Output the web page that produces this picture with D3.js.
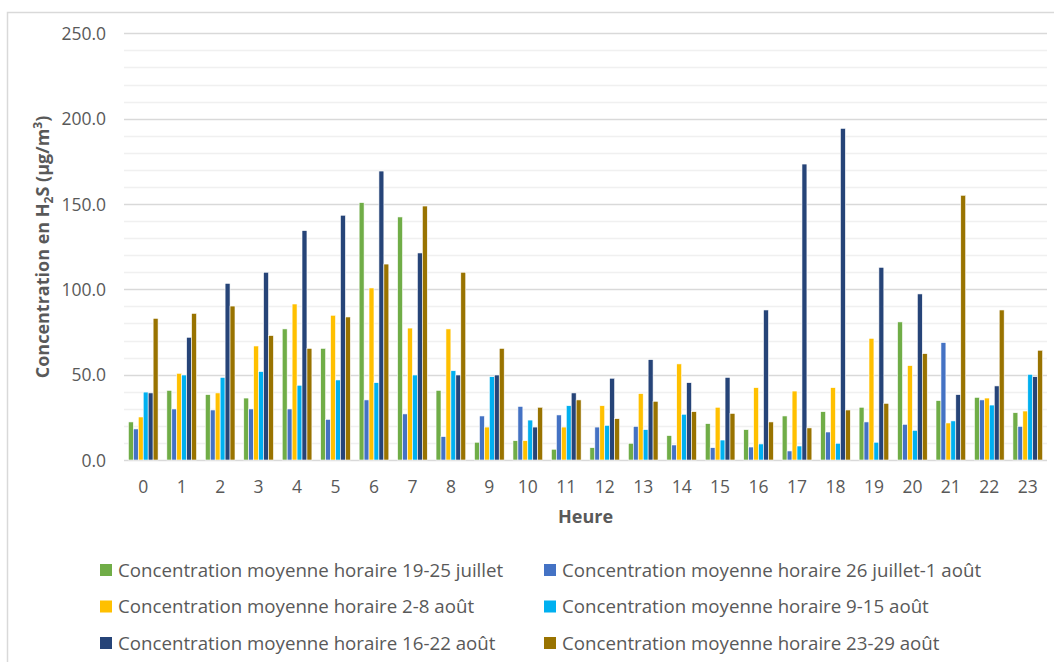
<!DOCTYPE html>
<html>
<head>
<meta charset="utf-8">
<script src="https://cdn.jsdelivr.net/npm/d3@7/dist/d3.min.js"></script>
<style>
  body { margin: 0; background: #fff; }
  svg text { font-family: "Open Sans", "Noto Sans", sans-serif; fill: #595959; }
</style>
</head>
<body>
<div id="chart"></div>
<script>
// DATA
var hours = ['0','1','2','3','4','5','6','7','8','9','10','11','12','13','14','15','16','17','18','19','20','21','22','23'];
var seriesNames = [
  'Concentration moyenne horaire 19-25 juillet',
  'Concentration moyenne horaire 26 juillet-1 août',
  'Concentration moyenne horaire 2-8 août',
  'Concentration moyenne horaire 9-15 août',
  'Concentration moyenne horaire 16-22 août',
  'Concentration moyenne horaire 23-29 août'
];
var colors = ['#70ad47', '#4472c4', '#ffc000', '#00b0f0', '#264478', '#997300'];

var juil19 = [22.3, 40.8, 38.3, 36.3, 76.8, 65.4, 150.8, 142.4, 40.8, 10.4, 11.3, 6.3, 7.2, 9.8, 14.3, 21.3, 17.8, 25.8, 28.3, 30.9, 80.9, 34.8, 36.7, 27.7];
var juil26 = [18.2, 29.9, 29.3, 29.9, 29.9, 23.8, 35.2, 27.0, 13.7, 25.8, 31.4, 26.4, 19.3, 19.7, 8.8, 7.2, 7.6, 5.3, 16.4, 22.3, 20.9, 68.8, 35.2, 19.7];
var aout2 = [25.2, 50.8, 39.3, 66.8, 91.4, 84.8, 100.8, 77.3, 76.8, 19.3, 11.3, 19.3, 31.8, 38.9, 56.3, 30.9, 42.4, 40.4, 42.4, 71.3, 55.3, 21.7, 36.3, 28.7];
var aout9 = [39.8, 49.8, 48.4, 51.8, 43.8, 46.9, 45.3, 49.8, 52.3, 48.8, 23.4, 31.8, 20.3, 17.8, 26.8, 11.7, 9.4, 8.2, 9.8, 10.4, 17.4, 22.9, 32.2, 50.2];
var aout16 = [39.3, 71.9, 103.5, 110.0, 134.4, 143.4, 169.3, 121.3, 49.8, 49.8, 19.3, 39.3, 47.9, 58.8, 45.3, 48.4, 87.9, 173.4, 194.3, 112.9, 97.3, 38.3, 43.4, 48.8];
var aout23 = [83.0, 85.9, 90.2, 72.9, 65.4, 83.8, 114.8, 148.8, 110.0, 65.4, 30.9, 35.2, 24.2, 34.4, 28.3, 27.3, 22.3, 18.8, 29.3, 33.2, 62.3, 155.1, 87.9, 64.3];
var yTicks = [0, 50, 100, 150, 200, 250];

var allSeries = [juil19, juil26, aout2, aout9, aout16, aout23];

// SETUP
var width = 1054;
var height = 662;
var margin = {left: 124, right: 1047, top: 33.3, bottom: 460};

var svg = d3.select('#chart')
  .append('svg')
  .attr('width', width)
  .attr('height', height);

// outer frame (top and left edges visible)
svg.append('path')
  .attr('d', 'M7.5,' + height + ' V12.5 H' + width)
  .attr('fill', 'none')
  .attr('stroke', '#d9d9d9')
  .attr('stroke-width', 1.5);

var y = d3.scaleLinear().domain([0, 250]).range([margin.bottom, margin.top]);
var x0 = d3.scaleBand().domain(hours).range([margin.left, margin.right])
  .paddingInner(0.228).paddingOuter(0.114);
var x1 = d3.scaleBand().domain(d3.range(allSeries.length)).range([0, x0.bandwidth()]);

// GRIDLINES
var minor = d3.range(10, 250, 10).filter(function(v) { return v % 50 !== 0; });
svg.append('g').selectAll('line')
  .data(minor)
  .enter()
  .append('line')
  .attr('x1', margin.left).attr('x2', margin.right)
  .attr('y1', function(d) { return Math.round(y(d)) + 0.5; })
  .attr('y2', function(d) { return Math.round(y(d)) + 0.5; })
  .attr('stroke', '#f0f0f0')
  .attr('stroke-width', 1.3);

svg.append('g').selectAll('line')
  .data(yTicks)
  .enter()
  .append('line')
  .attr('x1', margin.left).attr('x2', margin.right)
  .attr('y1', function(d) { return Math.round(y(d)) + 0.5; })
  .attr('y2', function(d) { return Math.round(y(d)) + 0.5; })
  .attr('stroke', '#d9d9d9')
  .attr('stroke-width', 1.3);

// BARS
var groups = svg.append('g').selectAll('g')
  .data(hours)
  .enter()
  .append('g')
  .attr('transform', function(d) { return 'translate(' + x0(d) + ',0)'; });

groups.selectAll('rect')
  .data(function(d, i) {
    return allSeries.map(function(s, k) { return {k: k, v: s[i]}; });
  })
  .enter()
  .append('rect')
  .attr('x', function(d) { return x1(d.k); })
  .attr('width', x1.bandwidth())
  .attr('y', function(d) { return y(d.v); })
  .attr('height', function(d) { return y(0) - y(d.v); })
  .attr('fill', function(d) { return colors[d.k]; })
  .attr('stroke', '#fff')
  .attr('stroke-width', 0.6);

// AXES
var yAxis = d3.axisLeft(y).tickValues(yTicks).tickSize(0).tickPadding(0)
  .tickFormat(function(d) { return d3.format('.1f')(d); });
var gy = svg.append('g')
  .attr('transform', 'translate(106,0)')
  .call(yAxis);
gy.select('.domain').remove();
gy.selectAll('text').style('font-size', '17.5px').attr('dy', '0.35em');

var xAxis = d3.axisBottom(x0).tickSize(0).tickPadding(0);
var gx = svg.append('g')
  .attr('transform', 'translate(0,487)')
  .call(xAxis);
gx.select('.domain').remove();
gx.selectAll('text').style('font-size', '17.5px').attr('dy', '0.35em');

// AXIS TITLES
svg.append('text')
  .attr('x', (margin.left + margin.right) / 2)
  .attr('y', 517)
  .attr('dy', '0.35em')
  .attr('text-anchor', 'middle')
  .style('font-size', '18px')
  .style('font-weight', 'bold')
  .text('Heure');

var yTitle = svg.append('text')
  .attr('transform', 'translate(43,247) rotate(-90)')
  .attr('dy', '0.35em')
  .attr('text-anchor', 'middle')
  .style('font-size', '18px')
  .style('font-weight', 'bold');
yTitle.append('tspan').text('Concentration en H');
yTitle.append('tspan').text('2').style('font-size', '12px').attr('dy', '4');
yTitle.append('tspan').text('S (µg/m').style('font-size', '18px').attr('dy', '-4');
yTitle.append('tspan').text('3').style('font-size', '12px').attr('dy', '-7');
yTitle.append('tspan').text(')').style('font-size', '18px').attr('dy', '7');

// LEGEND
var legendRectSize = 12;
var legend = svg.append('g').selectAll('.legend')
  .data(seriesNames)
  .enter()
  .append('g')
  .attr('class', 'legend')
  .attr('transform', function(d, i) {
    var horz = (i % 2 === 0) ? 100 : 544;
    var vert = 564 + Math.floor(i / 2) * 36.5;
    return 'translate(' + horz + ',' + vert + ')';
  });
legend.append('rect')
  .attr('width', legendRectSize)
  .attr('height', legendRectSize)
  .attr('fill', function(d, i) { return colors[i]; });
legend.append('text')
  .attr('x', 18)
  .attr('y', legendRectSize / 2)
  .attr('dy', '0.35em')
  .style('font-size', '18.7px')
  .text(function(d) { return d; });
</script>
</body>
</html>
